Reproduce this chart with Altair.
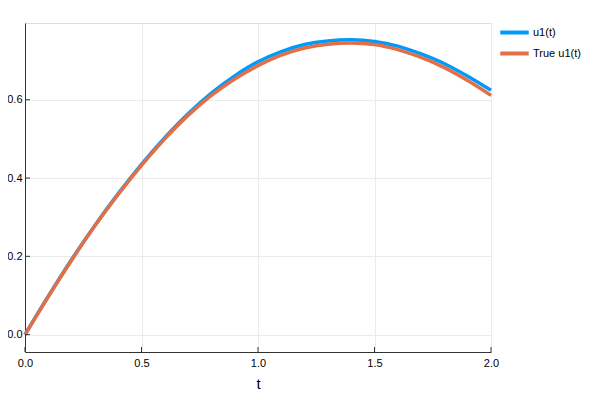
import altair as alt
import pandas as pd

t_vals = [0.0, 0.1, 0.2, 0.3, 0.4, 0.5, 0.6, 0.7, 0.8, 0.9, 1.0,
          1.1, 1.2, 1.3, 1.4, 1.5, 1.6, 1.7, 1.8, 1.9, 2.0]
u1_pred = [0.0, 0.098, 0.192, 0.279, 0.360, 0.435, 0.503, 0.564, 0.617, 0.661, 0.697,
           0.723, 0.741, 0.750, 0.753, 0.749, 0.737, 0.717, 0.692, 0.660, 0.624]
u1_true = [0.0, 0.097, 0.190, 0.278, 0.358, 0.432, 0.500, 0.560, 0.611, 0.653, 0.687,
           0.714, 0.732, 0.742, 0.745, 0.741, 0.728, 0.708, 0.682, 0.649, 0.611]
series_names = ["u1(t)", "True u1(t)"]
series_colors = ["#009AFA", "#E36F47"]
x_ticks = [0.0, 0.5, 1.0, 1.5, 2.0]
y_ticks = [0.0, 0.2, 0.4, 0.6]

W, H = 466, 329
FONT = "Liberation Sans"

df_pred = pd.DataFrame({"t": t_vals, "u": u1_pred, "series": series_names[0]})
df_true = pd.DataFrame({"t": t_vals, "u": u1_true, "series": series_names[1]})
df_xt = pd.DataFrame({"v": x_ticks})
df_yt = pd.DataFrame({"v": y_ticks})

xscale = alt.Scale(domain=[0, 2], nice=False, zero=False)
yscale = alt.Scale(domain=[-0.0444, 0.796], nice=False, zero=False)
cscale = alt.Scale(domain=series_names, range=series_colors)

xaxis = alt.Axis(values=x_ticks, format=".1f", title="t", ticks=False,
                 grid=True, gridColor="#ebebeb", gridWidth=1,
                 domainColor="#333333", domainWidth=1, labelFlush=False,
                 labelFont=FONT, labelFontSize=11, labelColor="#000000", labelPadding=5,
                 titleFont=FONT, titleFontSize=15, titleFontWeight="normal",
                 titleColor="#000000", titlePadding=8)
yaxis = alt.Axis(values=y_ticks, format=".1f", title=None, ticks=False,
                 grid=True, gridColor="#ebebeb", gridWidth=1,
                 domainColor="#333333", domainWidth=1, labelFlush=False,
                 labelFont=FONT, labelFontSize=11, labelColor="#000000", labelPadding=3)

legend = alt.Legend(title=None, orient="none", legendX=480, legendY=0,
                    symbolType="M-1.9,0H1.9", symbolSize=225, symbolStrokeWidth=4,
                    labelFont=FONT, labelFontSize=11, labelColor="#000000",
                    labelOffset=9, rowPadding=3, padding=0)

def line(df):
    return alt.Chart(df).mark_line(strokeWidth=3.5, interpolate="monotone").encode(
        x=alt.X("t:Q", scale=xscale, axis=xaxis),
        y=alt.Y("u:Q", scale=yscale, axis=yaxis),
        color=alt.Color("series:N", scale=cscale, legend=legend),
    )

xt = alt.Chart(df_xt).mark_rule(color="#333333", strokeWidth=1).encode(
    x=alt.X("v:Q", scale=xscale), y=alt.value(H), y2=alt.value(H - 5))
yt = alt.Chart(df_yt).mark_rule(color="#333333", strokeWidth=1).encode(
    y=alt.Y("v:Q", scale=yscale), x=alt.value(0), x2=alt.value(5))

chart = alt.layer(line(df_pred), line(df_true), xt, yt).properties(
    width=W, height=H,
    autosize=alt.AutoSizeParams(type="none"),
    padding={"left": 17, "top": 15, "right": 600 - 16 - 17 - W, "bottom": 400 - 16 - 15 - H},
).configure_view(stroke=None).configure(background="white")

chart.save("out.html", embed_options={"renderer": "svg", "actions": False})
